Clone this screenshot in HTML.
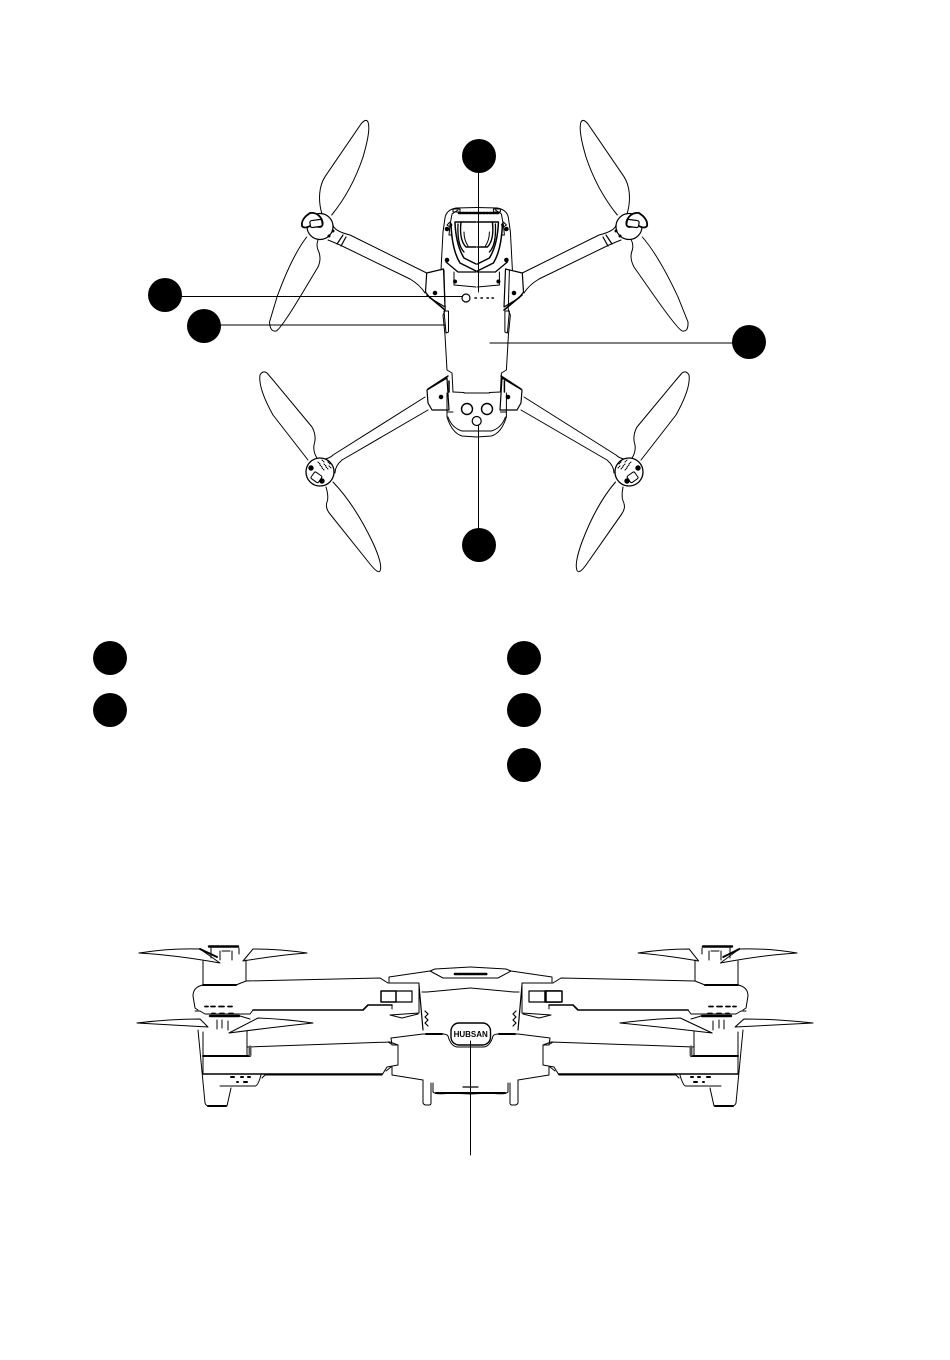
<!DOCTYPE html>
<html><head><meta charset="utf-8"><style>html,body{margin:0;padding:0;background:#fff}svg{display:block}</style></head>
<body>
<svg width="950" height="1360" viewBox="0 0 950 1360" xmlns="http://www.w3.org/2000/svg" fill="none" stroke="#000" stroke-width="1" stroke-linejoin="round" stroke-linecap="round">
<defs>
<path id="bladeTL" d="M306.7 237Q292 256 277 297L269.5 322Q270 332 276 331Q280 330 300 297L318 267Q322 258 318 250Q316 245 318 240"/>
<path id="bladeBL" d="M326 487Q329 497 327 502Q325 508 330 514L370 564Q378 574 380 571Q383 565 373 543Q355 505 333 482"/>
<g id="propT">
<path d="M321.7 213C318 200 319 186 325 176.7L361 124Q366 118 368 122Q371 130 363 157Q352 190 331.7 215"/>
<circle cx="320" cy="226.5" r="13" fill="#fff" stroke-width="1.2"/>
<path d="M306 216Q301 221 302 226Q304 229 310 226L320 227Q324 226 322 220Q318 212 310 213Z" fill="#fff" stroke-width="1.8"/>
<rect x="310" y="220" width="12" height="7" rx="2" transform="rotate(-8 316 223)" fill="#fff" stroke-width="1.2"/>
<circle cx="333" cy="231" r="1" fill="#000"/><circle cx="329" cy="236" r="1" fill="#000"/>
<path d="M333 225Q334 231 350 235L426.7 273"/>
<path d="M328 240Q333 242 340 245L410 279Q420 285 425 293"/>
<path d="M343 235L337 244M346 237L341 246" stroke-width="1.2"/>
<path d="M426.7 273L443.5 269L445 307L430 298L425.5 292Z" fill="#fff" stroke-width="1.2"/>
<path d="M427 295L445 310" stroke-width="1.6"/>
<circle cx="435" cy="293" r="1.8" fill="#000"/>
</g>
<g id="propB">
<path d="M308 460L273 415Q258 388 260 375Q263 370 267 373L273 380L312 427Q317 436 314 445Q313 452 317 458"/>
<circle cx="320" cy="472" r="14" fill="#fff" stroke-width="1.3"/>
<path d="M325 459Q330 458 333 455L425 397M335 473Q335 466 342 460L428 410" fill="none"/>
<circle cx="311" cy="468" r="2.2" fill="#000"/><circle cx="322" cy="481" r="2.2" fill="#000"/>
<rect x="312" y="473" width="9" height="8" rx="1.5" transform="rotate(35 316 477)" fill="#fff"/>
<path d="M318 462l2 2M322 460l2 2M326 459l2 2M320 465l2 2M324 464l2 2M328 462l2 2M322 468l2 2M326 467l2 2M329 466l2 2" stroke-width="1" stroke-dasharray="1 1"/>
<path d="M427 390L447 378L449 410L432 410L428 403Z" fill="#fff" stroke-width="1.2"/>
<path d="M428 389L448 376" stroke-width="1.5"/>
<circle cx="441" cy="397" r="1.8" fill="#000"/>
</g>
<g id="bodyHalf">
<path d="M476.7 207.5L456 208Q446 210 445 218L443 232L441 270M444 270L445 305Q446 310 443 315L445 335L447 370L452 373L453 392"/>
<path d="M458 210L452 214L450 225L449 235L452 235"/>
<path d="M453 209h7v3h-7zM447 225l3-3 2 3-2 2z"/>
<circle cx="447" cy="229" r="1.8" fill="#000"/><circle cx="447" cy="260" r="1.8" fill="#000"/>
<path d="M451 224Q452 250 460 263L476 271" stroke-width="1.5"/>
<path d="M455 223Q456 245 464 258L476 264" stroke-width="1.5"/>
<path d="M461 222Q459 240 466 247L476 247" stroke-width="1.4"/>
<path d="M458 224Q457 245 464 252" stroke-width="1.3"/>
<path d="M455 222L476 222" stroke-width="1.6"/>
<path d="M464 232Q464 240 468 246" stroke-width="1"/>
<path d="M446 262L458 272H476" stroke-width="1.3"/>
<path d="M454 272V285L476 287"/>
<circle cx="455" cy="281.5" r="1.5" fill="#000"/>
<path d="M444 311H448.5V332L446 333Z"/>
<path d="M447 393V417Q452 433 462 436L476.7 437"/>
<path d="M453 392L464 392.5M476.7 393H464"/>
<path d="M447 412H453M448 417Q452 428 462 431H476.7"/>
<path d="M449 381V392" stroke-width="1.5"/>
</g>
<g id="bladesF1">
<path d="M139 953Q170 948 200 949L220 963Q175 955 139 953Z"/>
<path d="M307 953Q280 949 253 949L243 961Q280 955 307 953Z"/>
<path d="M200 949L217 957" stroke-width="2"/>
</g>
<g id="bladesF2">
<path d="M137 1023Q170 1019 200 1019L208 1027Q170 1025 137 1023Z"/>
<path d="M313 1023Q285 1019 258 1018L229 1033Q275 1027 313 1023Z"/>
</g>
<g id="frontL">
<path d="M209 946.5H238" stroke-width="2.4"/>
<path d="M211 948V958M239 948V954M220 951V960M232 951V960M222 951H230"/>
<path d="M203 961V985M246 960V981"/>
<path d="M203 985H236" stroke-width="2"/>
<path d="M236 985L246 981L380 978L388 983M203 985Q193 987 193 996L195 1008L198 1010"/>
<path d="M195 1011H200L205 1014H250L253 1010" />
<path d="M253 1010H363L368 1005H392" stroke-width="1.6"/>
<path d="M205 1006.5h3M211 1006.5h4M219 1006.5h5M228 1006.5h4M212 1013.5h3M220 1013.5h4M229 1013.5h4" stroke-width="1.8"/>
<path d="M210 1016H239" stroke-width="2.4"/>
<path d="M217 1020V1029M222 1020V1028M228 1021V1030M240 1016L250 1019" />
<path d="M203 1032V1056M247 1031V1056" />
<path d="M203 1056H250" stroke-width="2"/>
<path d="M247 1047L390 1042L398 1045V1065L387 1067L382 1075H265" />
<path d="M250 1047V1055" stroke-width="3" stroke="#555"/>
<path d="M203 1074H382" stroke-width="1.4"/>
<path d="M265 1075L262 1078"/>
<path d="M198 1030L205 1103Q206 1106 209 1106H227L231 1088"/>
<path d="M208 1106H226" stroke-width="2"/>
<path d="M203 1056V1074M220 1086H255Q258 1086 261 1075"/>
<path d="M231 1077h3M241 1077h2M248 1077h2M237 1082h1M244 1082h3" stroke-width="2"/>
<path d="M391 1038L392 1045H398M392 1067V1075L423 1080"/>
<path d="M423 1080V1103Q424 1105 426 1105H429Q431 1105 431 1103V1083"/>
<path d="M433 1083V1092Q436 1095 450 1093L470.5 1094"/>
<path d="M436 1093H470.5" stroke-width="2"/>
<path d="M463 1087H470.5" stroke-width="1.2"/>
<path d="M389 982V977L430 971L435 969L470.5 967"/>
<path d="M430 971L443 978H470.5"/>
<path d="M419 985L423 1030" stroke-width="1.2"/>
<path d="M422 992H427L470.5 988"/>
<path d="M388 983H419V1013L390 1015L402 1018L418 1014"/>
<path d="M396 991H412V1002H396" stroke-width="1.2"/>
<rect x="381" y="991" width="15" height="11" stroke-width="1.5"/>
<path d="M388 1005H392V1009"/>
<path d="M391 1038L423 1034L442 1034Q447 1034 448 1036Q451 1047 458 1047H470.5"/>
<path d="M426 1034H442" stroke-width="2"/>
<path d="M391 1044L388 1042M391 1067L386 1071"/>
<path d="M425 1011l3 3-3 3 3 3-3 3 3 3" stroke-width="1.2"/>
</g>
</defs>

<use href="#bladeTL"/>
<use href="#bladeTL" transform="matrix(-1 0 0.1 1 925.3 0)"/>
<use href="#bladeBL"/>
<use href="#bladeBL" transform="matrix(-1 0 0.1 1 900.3 0)"/>
<use href="#propT"/>
<use href="#propT" transform="translate(949,0) scale(-1,1)"/>
<use href="#propB"/>
<use href="#propB" transform="translate(949,0) scale(-1,1)"/>
<use href="#bodyHalf"/>
<use href="#bodyHalf" transform="translate(953.4,0) scale(-1,1)"/>
<circle cx="466" cy="298" r="4" fill="#fff" stroke-width="1.2"/>
<path d="M475 298h1.4M481 298h1.4M487 298h1.4M492 298h1.4" stroke-width="1.5"/>
<path d="M459 213H498" stroke-width="2.5" stroke-dasharray="2 1.4"/>
<circle cx="467" cy="409" r="5.5" fill="#fff" stroke-width="1.4"/>
<circle cx="487" cy="409" r="5.5" fill="#fff" stroke-width="1.4"/>
<circle cx="476.7" cy="421" r="4.5" fill="#fff" stroke-width="1.2"/>

<path d="M478.5 140V292M165 296.5H462M204 325H445M490 343H750M478.5 425V545" stroke-width="1"/>
<g fill="#000" stroke="none">
<circle cx="479" cy="156" r="17"/><circle cx="165" cy="295" r="17"/><circle cx="204" cy="326" r="17"/>
<circle cx="749" cy="342" r="17"/><circle cx="479" cy="545" r="17"/>
<circle cx="110" cy="658" r="17"/><circle cx="110" cy="710" r="17"/>
<circle cx="524" cy="658" r="17"/><circle cx="524" cy="710" r="17"/><circle cx="524" cy="765" r="17"/>
</g>

<use href="#bladesF1"/>
<use href="#bladesF1" transform="matrix(-0.946 0 0 1 928.5 0)"/>
<use href="#bladesF2"/>
<use href="#bladesF2" transform="matrix(-1.097 0 0 1 963.3 0)"/>
<use href="#frontL"/>
<use href="#frontL" transform="translate(941,0) scale(-1,1)"/>
<rect x="546" y="991" width="16" height="11" fill="#fff" stroke-width="1.5"/>
<path d="M455 974H487" stroke-width="2.6" stroke-dasharray="2.4 1.2"/>
<rect x="451" y="1023" width="39.5" height="22" rx="8" fill="#fff" stroke-width="1.4"/>
<text x="470.7" y="1037" text-anchor="middle" font-family="'Liberation Sans',sans-serif" font-size="8" font-weight="700" fill="#000" stroke="none">HUBSAN</text>
<path d="M470.5 1041V1155" stroke-width="1"/>
</svg>
</body></html>
